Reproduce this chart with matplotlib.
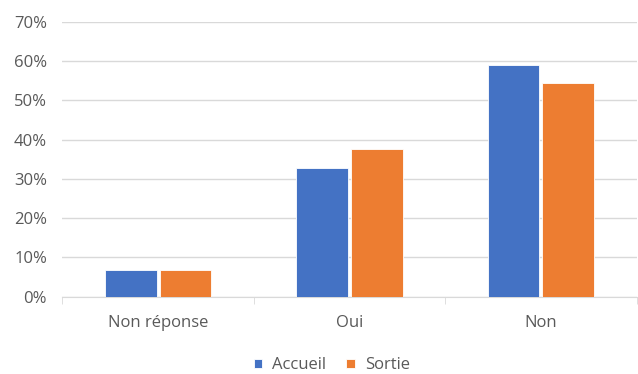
import numpy as np
import matplotlib.pyplot as plt
from matplotlib.ticker import PercentFormatter

plt.rcParams['font.family'] = ['Open Sans', 'DejaVu Sans']

# data
categories = ["Non réponse", "Oui", "Non"]
accueil = [6.8, 32.8, 59.0]
sortie = [6.8, 37.7, 54.4]
series_names = ["Accueil", "Sortie"]

fig = plt.figure(figsize=(6.38, 3.74), dpi=100)
ax = fig.add_axes([0.0977, 0.2067, 0.9, 0.7345])

x = np.arange(len(categories))
w = 0.27
ax.bar(x - w / 2 - 0.008, accueil, w, color="#4472c4", edgecolor="white", linewidth=0.6,
       label=series_names[0], zorder=3)
ax.bar(x + w / 2 + 0.008, sortie, w, color="#ed7d31", edgecolor="white", linewidth=0.6,
       label=series_names[1], zorder=3)

ax.set_xlim(-0.5, 2.5)
ax.set_ylim(0, 70)
ax.set_yticks(np.arange(0, 71, 10))
ax.yaxis.set_major_formatter(PercentFormatter(decimals=0))
ax.grid(axis="y", color="#d9d9d9", linewidth=1, zorder=0)

ax.set_xticks(x)
ax.set_xticklabels(categories)
ax.set_xticks([-0.5, 0.5, 1.5, 2.5], minor=True)
ax.tick_params(axis="x", which="major", length=0, pad=13, labelsize=12, labelcolor="#595959")
ax.tick_params(axis="x", which="minor", length=5, color="#d9d9d9")
ax.tick_params(axis="y", length=0, pad=11, labelsize=12, labelcolor="#595959")

for s in ["top", "right", "left"]:
    ax.spines[s].set_visible(False)
ax.spines["bottom"].set_color("#d9d9d9")

leg = fig.legend(loc="lower center", bbox_to_anchor=(0.52, -0.038), ncol=2, frameon=False,
                 fontsize=12, handlelength=0.5, handleheight=0.5, columnspacing=1.2,
                 handletextpad=0.6)
for t in leg.get_texts():
    t.set_color("#595959")

fig.savefig("out.png", dpi=100)
